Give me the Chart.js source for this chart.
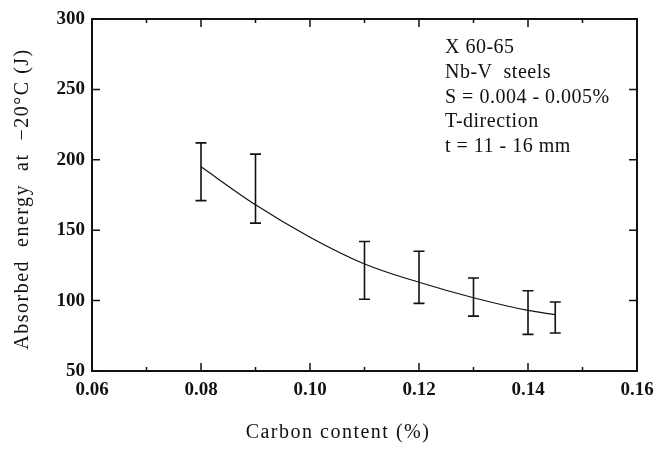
<!DOCTYPE html>
<html>
<head>
<meta charset="utf-8">
<script src="https://cdn.jsdelivr.net/npm/chart.js@4.4.1/dist/chart.umd.min.js"></script>
<style>
  html, body { margin: 0; padding: 0; background: #fff; }
  #wrap { width: 658px; height: 449px; position: relative; }
</style>
</head>
<body>
<div id="wrap"><canvas id="energyChart"></canvas></div>
<script>
// Carbon content (%) of each test group
const carbon = [0.08, 0.09, 0.11, 0.12, 0.13, 0.14, 0.145];
// Scatter band of absorbed energy (J) for each group
const energyHigh = [212, 204, 142, 135, 116, 107, 99];
const energyLow = [171, 155, 101, 98, 89, 76, 77];

// Fitted trend line
const fitCarbon = [0.08, 0.09, 0.10, 0.11, 0.12, 0.13, 0.14, 0.145];
const fitEnergy = [195, 168, 145, 126, 113, 102, 93, 90];

const xTicks = [0.06, 0.08, 0.10, 0.12, 0.14, 0.16];
const yTicks = [50, 100, 150, 200, 250, 300];

const xTitle = 'Carbon content (%)';
const yTitle = 'Absorbed  energy  at  \u221220\u00b0C (J)';
const noteLines = ['X 60-65', 'Nb-V  steels', 'S = 0.004 - 0.005%', 'T-direction', 't = 11 - 16 mm'];

const ink = '#111';
const serif = "'Liberation Serif', 'DejaVu Serif', serif";

// Frame, inward ticks on all four sides, scatter bars and the text block
const framePlugin = {
    id: 'frame',
    afterDatasetsDraw(chart) {
        const { ctx, chartArea: a, scales: { x, y } } = chart;
        ctx.save();
        ctx.strokeStyle = ink;

        // error bars
        ctx.lineWidth = 1.6;
        carbon.forEach((c, i) => {
            const px = x.getPixelForValue(c);
            const top = y.getPixelForValue(energyHigh[i]);
            const bot = y.getPixelForValue(energyLow[i]);
            ctx.beginPath();
            ctx.moveTo(px, top); ctx.lineTo(px, bot);
            ctx.moveTo(px - 5.5, top); ctx.lineTo(px + 5.5, top);
            ctx.moveTo(px - 5.5, bot); ctx.lineTo(px + 5.5, bot);
            ctx.stroke();
        });

        // box
        ctx.lineWidth = 2;
        ctx.strokeRect(a.left, a.top, a.right - a.left, a.bottom - a.top);

        // x ticks, long ones where a label sits
        ctx.lineWidth = 1.5;
        x.ticks.forEach(t => {
            const px = x.getPixelForValue(t.value);
            const len = xTicks.some(v => Math.abs(v - t.value) < 1e-6) ? 8 : 4;
            ctx.beginPath();
            ctx.moveTo(px, a.bottom); ctx.lineTo(px, a.bottom - len);
            ctx.moveTo(px, a.top); ctx.lineTo(px, a.top + len);
            ctx.stroke();
        });
        y.ticks.forEach(t => {
            const py = y.getPixelForValue(t.value);
            ctx.beginPath();
            ctx.moveTo(a.left, py); ctx.lineTo(a.left + 8, py);
            ctx.moveTo(a.right, py); ctx.lineTo(a.right - 8, py);
            ctx.stroke();
        });

        // note block in the upper right
        ctx.fillStyle = ink;
        ctx.font = '20px ' + serif;
        ctx.textBaseline = 'middle';
        ctx.letterSpacing = '0.5px';
        noteLines.forEach((line, i) => {
            ctx.fillText(line, 445, 48 + i * 24.7);
        });

        // axis titles, letter spaced
        ctx.letterSpacing = '1.5px';
        ctx.textAlign = 'center';
        ctx.fillText(xTitle, 338, 433);
        ctx.translate(23, 199);
        ctx.rotate(-Math.PI / 2);
        ctx.fillText(yTitle, 0, 0);
        ctx.restore();
    }
};

const ctx = document.getElementById('energyChart');

new Chart(ctx, {
    type: 'scatter',
    data: {
        datasets: [{
            label: 'fit',
            data: fitCarbon.map((c, i) => ({ x: c, y: fitEnergy[i] })),
            showLine: true,
            borderColor: ink,
            borderWidth: 1.2,
            pointRadius: 0,
            cubicInterpolationMode: 'monotone'
        }]
    },
    options: {
        responsive: true,
        maintainAspectRatio: false,
        animation: false,
        layout: { padding: { left: 0, right: 21, top: 19, bottom: 0 } },
        plugins: {
            legend: { display: false },
            tooltip: { enabled: false }
        },
        scales: {
            x: {
                type: 'linear',
                min: 0.06,
                max: 0.16,
                afterFit: s => {
                    s.height = 78;
                    s.paddingLeft = 0;
                    s.paddingRight = 0;
                },
                grid: { display: false, drawTicks: false },
                border: { display: false },
                ticks: {
                    stepSize: 0.01,
                    padding: 8,
                    color: ink,
                    maxRotation: 0,
                    autoSkip: false,
                    font: { family: serif, size: 19, weight: 'bold' },
                    callback: v => xTicks.some(t => Math.abs(t - v) < 1e-6) ? v.toFixed(2) : ''
                }
            },
            y: {
                min: 50,
                max: 300,
                afterFit: s => {
                    s.width = 92;
                    s.paddingTop = 0;
                    s.paddingBottom = 0;
                },
                grid: { display: false, drawTicks: false },
                border: { display: false },
                ticks: {
                    stepSize: 50,
                    padding: 7,
                    color: ink,
                    font: { family: serif, size: 19, weight: 'bold' },
                    callback: v => yTicks.includes(v) ? String(v) : ''
                }
            }
        }
    },
    plugins: [framePlugin]
});
</script>
</body>
</html>
